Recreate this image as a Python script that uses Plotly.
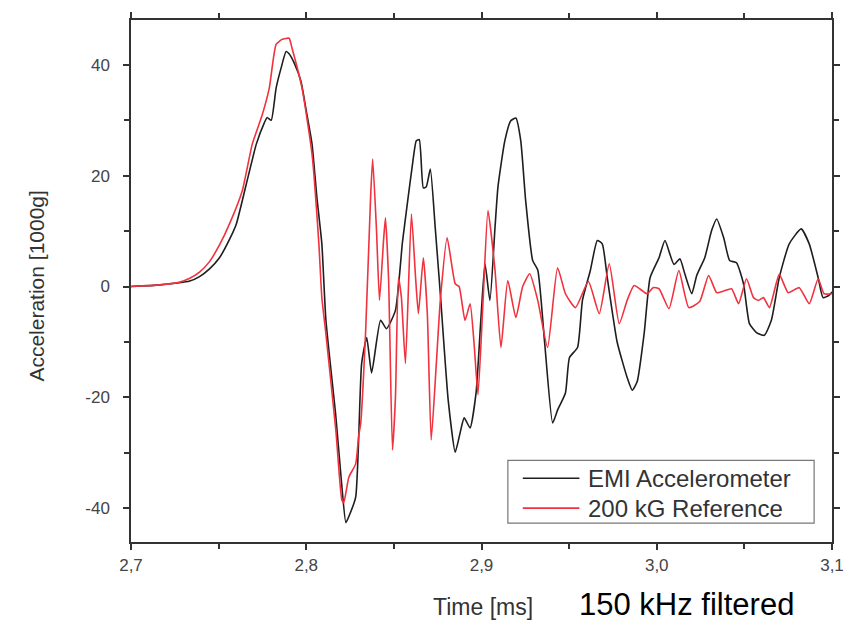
import plotly.graph_objects as go

# EMI Accelerometer (time in ms, acceleration in 1000 g)
emi_t = [2.7000, 2.7165, 2.7335, 2.7391, 2.7448, 2.7505, 2.7562, 2.7601, 2.7658, 2.7715,
         2.7760, 2.7777, 2.7800, 2.7828, 2.7857, 2.7885, 2.7902, 2.7936, 2.7970, 2.8004,
         2.8033, 2.8061, 2.8089, 2.8112, 2.8169, 2.8203, 2.8226, 2.8243, 2.8282, 2.8316,
         2.8345, 2.8373, 2.8424, 2.8458, 2.8509, 2.8549, 2.8583, 2.8606, 2.8628, 2.8645,
         2.8668, 2.8685, 2.8708, 2.8736, 2.8765, 2.8810, 2.8850, 2.8878, 2.8901, 2.8935,
         2.8969, 2.8997, 2.9020, 2.9048, 2.9077, 2.9094, 2.9133, 2.9167, 2.9196, 2.9224,
         2.9252, 2.9292, 2.9321, 2.9360, 2.9406, 2.9434, 2.9479, 2.9502, 2.9548, 2.9576,
         2.9621, 2.9661, 2.9689, 2.9718, 2.9774, 2.9831, 2.9860, 2.9888, 2.9928, 2.9962,
         3.0013, 3.0047, 3.0098, 3.0132, 3.0160, 3.0200, 3.0228, 3.0274, 3.0313, 3.0342,
         3.0382, 3.0416, 3.0455, 3.0495, 3.0529, 3.0569, 3.0614, 3.0654, 3.0699, 3.0756,
         3.0824, 3.0870, 3.0921, 3.0949, 3.0983, 3.1000]
emi_a = [0.0, 0.3, 1.0, 1.8, 3.2, 5.2, 8.5, 11.3, 18.5, 25.7,
         29.5, 30.5, 30.0, 35.8, 39.5, 42.4, 42.0, 40.0, 37.0, 31.0,
         25.7, 16.0, 7.7, -6.0, -23.5, -36.0, -42.6, -41.5, -38.0, -13.9,
         -9.2, -15.6, -6.1, -7.6, -4.3, 8.0, 16.5, 22.0, 26.3, 26.5,
         17.8, 18.0, 21.2, 10.6, -1.3, -20.5, -29.9, -26.4, -23.7, -25.5,
         -19.2, -5.6, 4.1, -2.5, 10.6, 18.0, 26.3, 29.9, 30.4, 26.3,
         15.5, 4.7, 3.0, -10.0, -24.6, -22.3, -19.2, -12.8, -11.0, -2.5,
         2.9, 8.3, 7.7, 1.5, -10.0, -16.4, -18.7, -17.2, -8.5, 1.6,
         5.2, 8.3, 4.0, 5.0, 2.3, -1.3, 2.0, 5.2, 10.1, 12.2,
         8.8, 4.7, 4.3, 0.5, -6.7, -8.3, -8.8, -6.1, 1.6, 7.7,
         10.4, 7.7, 1.6, -2.0, -1.6, -1.0]

# 200 kG Reference
ref_t = [2.7000, 2.7165, 2.7278, 2.7335, 2.7391, 2.7448, 2.7505, 2.7562, 2.7635, 2.7692,
         2.7749, 2.7789, 2.7828, 2.7862, 2.7902, 2.7919, 2.7976, 2.8033, 2.8072, 2.8089,
         2.8112, 2.8169, 2.8203, 2.8214, 2.8243, 2.8282, 2.8299, 2.8311, 2.8339, 2.8367,
         2.8379, 2.8401, 2.8418, 2.8441, 2.8452, 2.8470, 2.8492, 2.8509, 2.8526, 2.8543,
         2.8566, 2.8600, 2.8623, 2.8640, 2.8668, 2.8691, 2.8713, 2.8742, 2.8765, 2.8804,
         2.8850, 2.8872, 2.8906, 2.8935, 2.8957, 2.8980, 2.9009, 2.9037, 2.9077, 2.9111,
         2.9150, 2.9196, 2.9235, 2.9275, 2.9321, 2.9377, 2.9434, 2.9479, 2.9536, 2.9610,
         2.9672, 2.9729, 2.9786, 2.9831, 2.9871, 2.9945, 2.9979, 3.0013, 3.0070, 3.0126,
         3.0183, 3.0245, 3.0296, 3.0342, 3.0382, 3.0427, 3.0467, 3.0512, 3.0552, 3.0580,
         3.0609, 3.0643, 3.0699, 3.0750, 3.0813, 3.0870, 3.0921, 3.0955, 3.1000]
ref_a = [0.0, 0.3, 0.8, 1.5, 2.6, 4.5, 7.5, 11.3, 17.3, 25.7,
         31.0, 35.8, 43.7, 44.6, 44.8, 43.0, 35.8, 23.9, 7.7, -2.0,
         -8.5, -26.0, -38.5, -39.0, -34.4, -32.0, -27.0, -24.6, -8.0, 16.0,
         23.0, 10.0, -2.5, 8.3, 12.4, 1.1, -29.5, -20.0, 1.6, -2.0,
         -13.9, 13.1, 2.0, -4.9, 5.2, -5.0, -27.7, -14.0, -2.5, 8.8,
         0.5, 0.0, -6.1, -3.1, -10.0, -19.5, -2.5, 13.7, 3.0, -11.0,
         1.1, -5.6, 0.0, 2.3, -2.5, -11.0, 3.4, -1.3, -3.8, 0.9,
         -4.9, 4.1, -6.7, -2.5, 0.2, -1.3, -0.2, -0.4, -4.0, 2.9,
         -3.8, -2.7, 2.0, -1.1, -0.8, -0.4, -3.1, 1.4, -2.0, -2.5,
         -2.0, -3.8, 2.2, -1.1, -0.2, -3.1, 1.4, -1.3, -1.3]

x_ticks = [2.7, 2.8, 2.9, 3.0, 3.1]
x_ticklabels = ["2,7", "2,8", "2,9", "3,0", "3,1"]
y_ticks = [-40, -20, 0, 20, 40]
y_ticklabels = ["-40", "-20", "0", "20", "40"]
series_names = ["EMI Accelerometer", "200 kG Reference"]

BLACK = "#1e1e1e"
RED = "#f0323e"
FONT = "Liberation Sans, Arial, sans-serif"

fig = go.Figure()
fig.add_trace(go.Scatter(x=emi_t, y=emi_a, mode="lines", name=series_names[0],
                         line=dict(color=BLACK, width=1.6, shape="spline", smoothing=0.5)))
fig.add_trace(go.Scatter(x=ref_t, y=ref_a, mode="lines", name=series_names[1],
                         line=dict(color=RED, width=1.6, shape="spline", smoothing=0.5)))

axis_common = dict(showline=True, linecolor="#333333", linewidth=1.5, mirror="ticks",
                   ticks="outside", ticklen=6, tickwidth=1.5, tickcolor="#333333",
                   showgrid=False, zeroline=False,
                   tickfont=dict(family=FONT, size=17, color="#444444"))

fig.update_xaxes(range=[2.7, 3.1], tickvals=x_ticks, ticktext=x_ticklabels,
                 ticklabelstandoff=1,
                 minor=dict(ticks="outside", dtick=0.05, tick0=2.7, ticklen=5,
                            tickwidth=1.5, tickcolor="#333333", showgrid=False),
                 **axis_common)
fig.update_yaxes(range=[-46.1, 48.1], tickvals=y_ticks, ticktext=y_ticklabels,
                 ticklabelstandoff=10,
                 minor=dict(ticks="outside", dtick=10, tick0=0, ticklen=5,
                            tickwidth=1.5, tickcolor="#333333", showgrid=False),
                 **axis_common)

# legend box drawn in paper coordinates
lx0, lx1, ly0, ly1 = 0.5376, 0.9745, 0.0363, 0.1565
shapes = [dict(type="rect", xref="paper", yref="paper", x0=lx0, x1=lx1, y0=ly0, y1=ly1,
               line=dict(color="#777777", width=1.2), fillcolor="white", layer="above")]
row_y = [0.1221, 0.0649]
colors = [BLACK, RED]
annotations = []
for name, yy, c in zip(series_names, row_y, colors):
    shapes.append(dict(type="line", xref="paper", yref="paper", x0=0.5589, x1=0.6397,
                       y0=yy, y1=yy, line=dict(color=c, width=1.6), layer="above"))
    annotations.append(dict(xref="paper", yref="paper", x=0.649, y=yy, xanchor="left",
                            yanchor="middle", text=name, showarrow=False,
                            font=dict(family=FONT, size=24, color="#333333")))

annotations += [
    dict(xref="paper", yref="paper", x=0.502, y=-0.124, xanchor="center", yanchor="middle",
         text="Time [ms]", showarrow=False, font=dict(family=FONT, size=23, color="#333333")),
    dict(xref="paper", yref="paper", x=0.793, y=-0.12, xanchor="center", yanchor="middle",
         text="150 kHz filtered", showarrow=False, font=dict(family=FONT, size=31, color="#000000")),
    dict(xref="paper", yref="paper", x=-0.135, y=0.49, xanchor="center", yanchor="middle",
         text="Acceleration [1000g]", textangle=-90, showarrow=False,
         font=dict(family=FONT, size=21, color="#333333")),
]

fig.update_layout(width=856, height=624, margin=dict(l=131, r=20, t=18, b=82),
                  paper_bgcolor="white", plot_bgcolor="white", showlegend=False,
                  shapes=shapes, annotations=annotations)

fig.write_html("out.html")
